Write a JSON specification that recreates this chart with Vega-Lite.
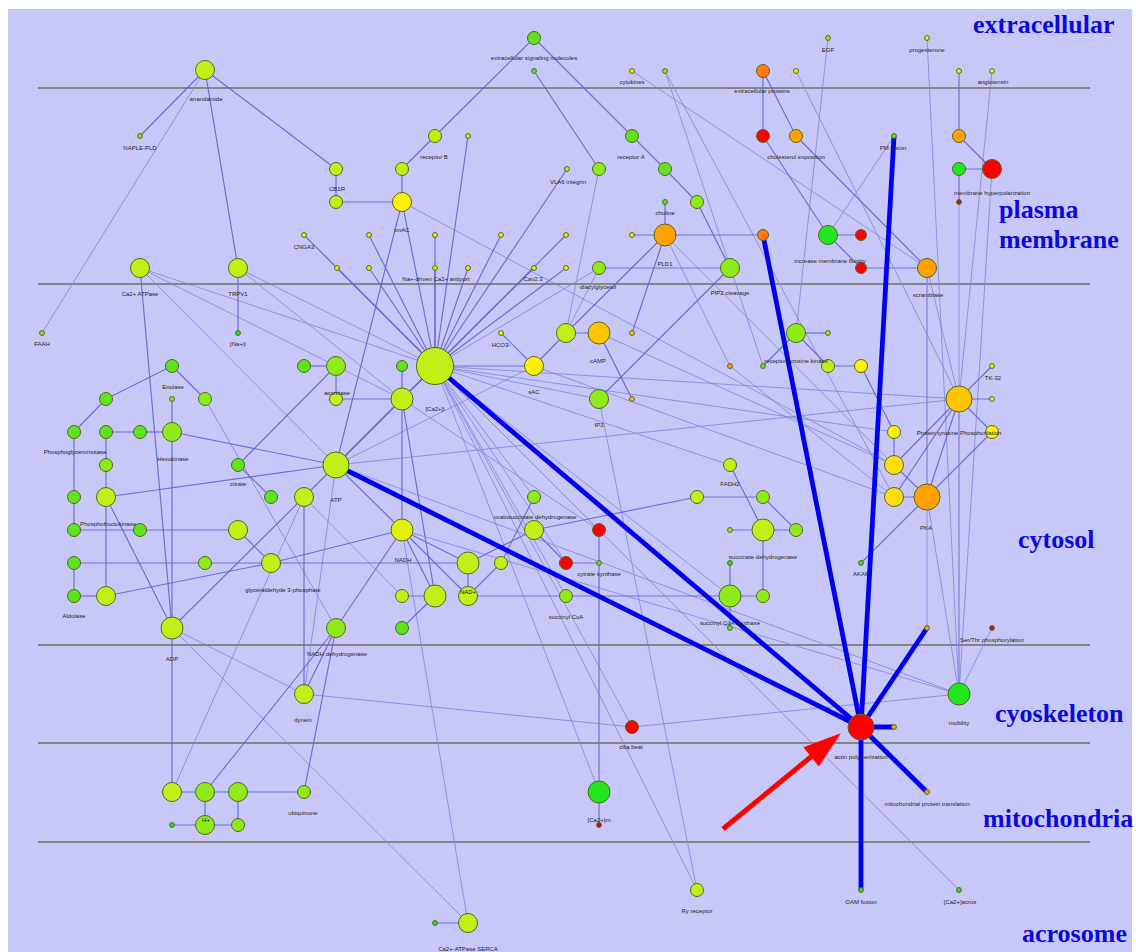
{
  "$schema": "https://vega.github.io/schema/vega-lite/v6.json",
  "width": 1124,
  "height": 943,
  "padding": {"left": 8, "top": 9, "right": 4, "bottom": 0},
  "autosize": {"type": "none"},
  "background": "white",
  "config": {"view": {"stroke": null, "fill": "#c8c8f8"}},
  "resolve": {"scale": {"color": "independent", "size": "independent"}},
  "datasets": {
    "nodes": [
      {"id":1,"x":205,"y":70,"lvl":4,"c":"g4"},{"id":2,"x":140,"y":136,"lvl":1,"c":"g3"},{"id":3,"x":534,"y":38,"lvl":3,"c":"g2"},{"id":4,"x":534,"y":71,"lvl":1,"c":"g2"},{"id":5,"x":632,"y":71,"lvl":1,"c":"y1"},{"id":6,"x":665,"y":71,"lvl":1,"c":"g3"},{"id":7,"x":763,"y":71,"lvl":3,"c":"o3"},{"id":8,"x":796,"y":71,"lvl":1,"c":"y1"},{"id":9,"x":828,"y":38,"lvl":1,"c":"g3"},{"id":10,"x":927,"y":38,"lvl":1,"c":"y1"},{"id":11,"x":959,"y":71,"lvl":1,"c":"y1"},{"id":12,"x":992,"y":71,"lvl":1,"c":"y1"},
      {"id":13,"x":435,"y":136,"lvl":3,"c":"g4"},{"id":14,"x":468,"y":136,"lvl":1,"c":"g4"},{"id":15,"x":402,"y":169,"lvl":3,"c":"g4"},{"id":16,"x":336,"y":169,"lvl":3,"c":"g4"},{"id":17,"x":336,"y":202,"lvl":3,"c":"g4"},{"id":18,"x":402,"y":202,"lvl":4,"c":"y2"},{"id":19,"x":567,"y":169,"lvl":1,"c":"g4"},{"id":20,"x":599,"y":169,"lvl":3,"c":"g3"},{"id":21,"x":632,"y":136,"lvl":3,"c":"g2"},{"id":22,"x":665,"y":169,"lvl":3,"c":"g2"},{"id":23,"x":697,"y":202,"lvl":3,"c":"g3"},{"id":24,"x":665,"y":202,"lvl":1,"c":"g2"},{"id":25,"x":665,"y":235,"lvl":5,"c":"o2"},{"id":26,"x":632,"y":235,"lvl":1,"c":"y1"},{"id":27,"x":763,"y":235,"lvl":2,"c":"o3"},{"id":28,"x":828,"y":235,"lvl":4,"c":"g1"},{"id":29,"x":861,"y":235,"lvl":2,"c":"r1"},{"id":30,"x":861,"y":268,"lvl":2,"c":"r1"},{"id":31,"x":927,"y":268,"lvl":4,"c":"o2"},{"id":32,"x":894,"y":136,"lvl":1,"c":"g2"},{"id":33,"x":959,"y":136,"lvl":3,"c":"o2"},{"id":34,"x":959,"y":169,"lvl":3,"c":"g1"},{"id":35,"x":992,"y":169,"lvl":4,"c":"r1"},{"id":36,"x":959,"y":202,"lvl":1,"c":"r2"},
      {"id":37,"x":304,"y":235,"lvl":1,"c":"y1"},{"id":38,"x":369,"y":235,"lvl":1,"c":"y1"},{"id":39,"x":435,"y":235,"lvl":1,"c":"y1"},{"id":40,"x":501,"y":235,"lvl":1,"c":"y1"},{"id":41,"x":566,"y":235,"lvl":1,"c":"y1"},{"id":42,"x":337,"y":268,"lvl":1,"c":"y1"},{"id":43,"x":369,"y":268,"lvl":1,"c":"y1"},{"id":44,"x":435,"y":268,"lvl":1,"c":"y1"},{"id":45,"x":468,"y":268,"lvl":1,"c":"y1"},{"id":46,"x":534,"y":268,"lvl":1,"c":"y1"},{"id":47,"x":566,"y":268,"lvl":1,"c":"y1"},
      {"id":48,"x":140,"y":268,"lvl":4,"c":"g4"},{"id":49,"x":238,"y":268,"lvl":4,"c":"g4"},{"id":50,"x":599,"y":268,"lvl":3,"c":"g3"},{"id":51,"x":730,"y":268,"lvl":4,"c":"g3"},
      {"id":52,"x":42,"y":333,"lvl":1,"c":"g3"},{"id":53,"x":238,"y":333,"lvl":1,"c":"g1"},{"id":54,"x":435,"y":366,"lvl":7,"c":"g4"},{"id":55,"x":402,"y":366,"lvl":2,"c":"g2"},{"id":56,"x":402,"y":399,"lvl":5,"c":"g4"},{"id":57,"x":501,"y":333,"lvl":1,"c":"y1"},{"id":58,"x":534,"y":366,"lvl":4,"c":"y2"},{"id":59,"x":566,"y":333,"lvl":4,"c":"g4"},{"id":60,"x":599,"y":333,"lvl":5,"c":"o1"},{"id":61,"x":632,"y":333,"lvl":1,"c":"o1"},{"id":62,"x":632,"y":399,"lvl":1,"c":"o1"},{"id":63,"x":599,"y":399,"lvl":4,"c":"g3"},{"id":64,"x":730,"y":366,"lvl":1,"c":"o2"},{"id":65,"x":763,"y":366,"lvl":1,"c":"g2"},{"id":66,"x":796,"y":333,"lvl":4,"c":"g3"},{"id":67,"x":828,"y":333,"lvl":1,"c":"g3"},{"id":68,"x":828,"y":366,"lvl":3,"c":"g4"},{"id":69,"x":861,"y":366,"lvl":3,"c":"y2"},{"id":70,"x":959,"y":399,"lvl":6,"c":"o1"},{"id":71,"x":992,"y":366,"lvl":1,"c":"y1"},{"id":72,"x":992,"y":399,"lvl":1,"c":"y1"},{"id":73,"x":992,"y":432,"lvl":3,"c":"y2"},{"id":74,"x":894,"y":432,"lvl":3,"c":"y2"},{"id":75,"x":894,"y":465,"lvl":4,"c":"y3"},{"id":76,"x":894,"y":497,"lvl":4,"c":"y3"},{"id":77,"x":927,"y":497,"lvl":6,"c":"o2"},{"id":78,"x":861,"y":563,"lvl":1,"c":"g1"},
      {"id":79,"x":172,"y":366,"lvl":3,"c":"g2"},{"id":80,"x":106,"y":399,"lvl":3,"c":"g2"},{"id":81,"x":205,"y":399,"lvl":3,"c":"g3"},{"id":82,"x":172,"y":399,"lvl":1,"c":"g3"},{"id":83,"x":74,"y":432,"lvl":3,"c":"g2"},{"id":84,"x":106,"y":432,"lvl":3,"c":"g2"},{"id":85,"x":140,"y":432,"lvl":3,"c":"g2"},{"id":86,"x":172,"y":432,"lvl":4,"c":"g3"},{"id":87,"x":106,"y":465,"lvl":3,"c":"g3"},{"id":88,"x":74,"y":497,"lvl":3,"c":"g2"},{"id":89,"x":106,"y":497,"lvl":4,"c":"g4"},{"id":90,"x":74,"y":530,"lvl":3,"c":"g2"},{"id":91,"x":140,"y":530,"lvl":3,"c":"g2"},{"id":92,"x":238,"y":530,"lvl":4,"c":"g4"},{"id":93,"x":74,"y":563,"lvl":3,"c":"g2"},{"id":94,"x":205,"y":563,"lvl":3,"c":"g3"},{"id":95,"x":271,"y":563,"lvl":4,"c":"g4"},{"id":96,"x":74,"y":596,"lvl":3,"c":"g2"},{"id":97,"x":106,"y":596,"lvl":4,"c":"g4"},{"id":98,"x":172,"y":628,"lvl":5,"c":"g4"},{"id":99,"x":238,"y":465,"lvl":3,"c":"g2"},{"id":100,"x":271,"y":497,"lvl":3,"c":"g2"},
      {"id":101,"x":304,"y":366,"lvl":3,"c":"g2"},{"id":102,"x":336,"y":366,"lvl":4,"c":"g3"},{"id":103,"x":336,"y":399,"lvl":3,"c":"g4"},{"id":104,"x":336,"y":465,"lvl":6,"c":"g4"},{"id":105,"x":304,"y":497,"lvl":4,"c":"g4"},{"id":106,"x":402,"y":530,"lvl":5,"c":"y1"},{"id":107,"x":468,"y":563,"lvl":5,"c":"g4"},{"id":108,"x":468,"y":596,"lvl":4,"c":"g4"},{"id":109,"x":435,"y":596,"lvl":5,"c":"g4"},{"id":110,"x":402,"y":596,"lvl":3,"c":"g4"},{"id":111,"x":402,"y":628,"lvl":3,"c":"g2"},{"id":112,"x":501,"y":563,"lvl":3,"c":"g4"},{"id":113,"x":534,"y":497,"lvl":3,"c":"g3"},{"id":114,"x":534,"y":530,"lvl":4,"c":"g4"},{"id":115,"x":599,"y":530,"lvl":3,"c":"r1"},{"id":116,"x":566,"y":563,"lvl":3,"c":"r1"},{"id":117,"x":599,"y":563,"lvl":1,"c":"g2"},{"id":118,"x":566,"y":596,"lvl":3,"c":"g3"},{"id":119,"x":730,"y":465,"lvl":3,"c":"g4"},{"id":120,"x":697,"y":497,"lvl":3,"c":"g4"},{"id":121,"x":763,"y":497,"lvl":3,"c":"g3"},{"id":122,"x":730,"y":530,"lvl":1,"c":"g3"},{"id":123,"x":763,"y":530,"lvl":5,"c":"g4"},{"id":124,"x":796,"y":530,"lvl":3,"c":"g3"},{"id":125,"x":730,"y":563,"lvl":1,"c":"g1"},{"id":126,"x":730,"y":596,"lvl":5,"c":"g3"},{"id":127,"x":763,"y":596,"lvl":3,"c":"g3"},{"id":128,"x":730,"y":628,"lvl":1,"c":"g2"},
      {"id":129,"x":336,"y":628,"lvl":4,"c":"g3"},{"id":130,"x":304,"y":694,"lvl":4,"c":"g4"},{"id":131,"x":992,"y":628,"lvl":1,"c":"r2"},{"id":132,"x":927,"y":628,"lvl":1,"c":"o2"},{"id":133,"x":959,"y":694,"lvl":5,"c":"g1"},{"id":134,"x":861,"y":727,"lvl":6,"c":"r1"},{"id":135,"x":894,"y":727,"lvl":1,"c":"o2"},{"id":136,"x":632,"y":727,"lvl":3,"c":"r1"},
      {"id":137,"x":172,"y":792,"lvl":4,"c":"g4"},{"id":138,"x":205,"y":792,"lvl":4,"c":"g3"},{"id":139,"x":238,"y":792,"lvl":4,"c":"g3"},{"id":140,"x":205,"y":825,"lvl":4,"c":"g3"},{"id":141,"x":238,"y":825,"lvl":3,"c":"g3"},{"id":142,"x":172,"y":825,"lvl":1,"c":"g1"},{"id":143,"x":304,"y":792,"lvl":3,"c":"g3"},{"id":144,"x":599,"y":792,"lvl":5,"c":"g1"},{"id":145,"x":599,"y":825,"lvl":1,"c":"r2"},{"id":146,"x":927,"y":792,"lvl":1,"c":"o2"},
      {"id":147,"x":697,"y":890,"lvl":3,"c":"g4"},{"id":148,"x":861,"y":890,"lvl":1,"c":"g1"},{"id":149,"x":959,"y":890,"lvl":1,"c":"g1"},{"id":150,"x":468,"y":923,"lvl":4,"c":"g4"},{"id":151,"x":435,"y":923,"lvl":1,"c":"g1"},{"id":152,"x":763,"y":136,"lvl":3,"c":"r1"},{"id":153,"x":796,"y":136,"lvl":3,"c":"o2"}
    ],
    "edges": [
      {"s":1,"t":52,"k":"faint"},{"s":6,"t":65,"k":"faint"},{"s":6,"t":76,"k":"faint"},{"s":5,"t":31,"k":"faint"},{"s":8,"t":70,"k":"faint"},{"s":9,"t":66,"k":"faint"},{"s":10,"t":133,"k":"faint"},{"s":12,"t":70,"k":"faint"},{"s":35,"t":133,"k":"faint"},{"s":36,"t":133,"k":"faint"},{"s":32,"t":28,"k":"faint"},{"s":18,"t":75,"k":"faint"},{"s":20,"t":59,"k":"faint"},{"s":50,"t":54,"k":"faint"},{"s":50,"t":59,"k":"faint"},{"s":25,"t":64,"k":"faint"},{"s":25,"t":75,"k":"faint"},{"s":31,"t":77,"k":"faint"},{"s":31,"t":70,"k":"faint"},{"s":31,"t":132,"k":"faint"},{"s":48,"t":54,"k":"faint"},{"s":48,"t":56,"k":"faint"},{"s":48,"t":104,"k":"faint"},{"s":49,"t":54,"k":"faint"},{"s":49,"t":56,"k":"faint"},{"s":58,"t":104,"k":"faint"},{"s":54,"t":70,"k":"faint"},{"s":54,"t":74,"k":"faint"},{"s":54,"t":113,"k":"faint"},{"s":54,"t":115,"k":"faint"},{"s":54,"t":144,"k":"faint"},{"s":54,"t":147,"k":"faint"},{"s":54,"t":136,"k":"faint"},{"s":54,"t":126,"k":"faint"},{"s":54,"t":149,"k":"faint"},{"s":54,"t":63,"k":"faint"},{"s":60,"t":75,"k":"faint"},{"s":58,"t":76,"k":"faint"},{"s":64,"t":76,"k":"faint"},{"s":63,"t":147,"k":"faint"},{"s":104,"t":70,"k":"faint"},{"s":104,"t":130,"k":"faint"},{"s":98,"t":130,"k":"faint"},{"s":98,"t":150,"k":"faint"},{"s":106,"t":150,"k":"faint"},{"s":130,"t":136,"k":"faint"},{"s":136,"t":133,"k":"faint"},{"s":70,"t":133,"k":"faint"},{"s":77,"t":133,"k":"faint"},{"s":131,"t":133,"k":"faint"},{"s":81,"t":129,"k":"faint"},{"s":105,"t":137,"k":"faint"},{"s":105,"t":110,"k":"faint"},{"s":119,"t":54,"k":"faint"},{"s":106,"t":133,"k":"faint"},{"s":104,"t":133,"k":"faint"},{"s":54,"t":116,"k":"faint"},{"s":54,"t":118,"k":"faint"},{"s":56,"t":115,"k":"faint"},
      {"s":1,"t":2,"k":"thin"},{"s":1,"t":49,"k":"thin"},{"s":1,"t":16,"k":"thin"},{"s":3,"t":13,"k":"thin"},{"s":3,"t":21,"k":"thin"},{"s":4,"t":20,"k":"thin"},{"s":7,"t":152,"k":"thin"},{"s":7,"t":153,"k":"thin"},{"s":152,"t":28,"k":"thin"},{"s":153,"t":31,"k":"thin"},{"s":11,"t":33,"k":"thin"},{"s":33,"t":35,"k":"thin"},{"s":34,"t":35,"k":"thin"},{"s":34,"t":36,"k":"thin"},{"s":13,"t":15,"k":"thin"},{"s":15,"t":18,"k":"thin"},{"s":16,"t":17,"k":"thin"},{"s":17,"t":18,"k":"thin"},{"s":18,"t":54,"k":"thin"},{"s":18,"t":104,"k":"thin"},{"s":21,"t":22,"k":"thin"},{"s":22,"t":23,"k":"thin"},{"s":23,"t":51,"k":"thin"},{"s":24,"t":25,"k":"thin"},{"s":26,"t":25,"k":"thin"},{"s":25,"t":27,"k":"thin"},{"s":50,"t":51,"k":"thin"},{"s":25,"t":59,"k":"thin"},{"s":25,"t":61,"k":"thin"},{"s":51,"t":63,"k":"thin"},{"s":28,"t":29,"k":"thin"},{"s":28,"t":30,"k":"thin"},{"s":30,"t":31,"k":"thin"},{"s":49,"t":53,"k":"thin"},{"s":55,"t":56,"k":"thin"},{"s":56,"t":54,"k":"thin"},{"s":57,"t":58,"k":"thin"},{"s":58,"t":54,"k":"thin"},{"s":58,"t":59,"k":"thin"},{"s":59,"t":60,"k":"thin"},{"s":60,"t":62,"k":"thin"},{"s":66,"t":67,"k":"thin"},{"s":66,"t":68,"k":"thin"},{"s":66,"t":65,"k":"thin"},{"s":68,"t":69,"k":"thin"},{"s":69,"t":74,"k":"thin"},{"s":74,"t":75,"k":"thin"},{"s":75,"t":77,"k":"thin"},{"s":76,"t":77,"k":"thin"},{"s":75,"t":70,"k":"thin"},{"s":76,"t":70,"k":"thin"},{"s":77,"t":70,"k":"thin"},{"s":77,"t":73,"k":"thin"},{"s":70,"t":71,"k":"thin"},{"s":70,"t":72,"k":"thin"},{"s":70,"t":73,"k":"thin"},{"s":77,"t":78,"k":"thin"},
      {"s":79,"t":80,"k":"thin"},{"s":79,"t":81,"k":"thin"},{"s":80,"t":83,"k":"thin"},{"s":83,"t":88,"k":"thin"},{"s":88,"t":90,"k":"thin"},{"s":90,"t":91,"k":"thin"},{"s":91,"t":92,"k":"thin"},{"s":93,"t":94,"k":"thin"},{"s":93,"t":96,"k":"thin"},{"s":96,"t":97,"k":"thin"},{"s":84,"t":85,"k":"thin"},{"s":85,"t":86,"k":"thin"},{"s":82,"t":86,"k":"thin"},{"s":84,"t":87,"k":"thin"},{"s":87,"t":89,"k":"thin"},{"s":89,"t":97,"k":"thin"},{"s":94,"t":95,"k":"thin"},{"s":92,"t":95,"k":"thin"},{"s":97,"t":95,"k":"thin"},{"s":99,"t":100,"k":"thin"},{"s":99,"t":102,"k":"thin"},{"s":101,"t":102,"k":"thin"},{"s":102,"t":103,"k":"thin"},{"s":103,"t":56,"k":"thin"},{"s":104,"t":105,"k":"thin"},{"s":104,"t":106,"k":"thin"},{"s":56,"t":106,"k":"thin"},{"s":56,"t":109,"k":"thin"},{"s":95,"t":106,"k":"thin"},{"s":95,"t":107,"k":"thin"},{"s":106,"t":107,"k":"thin"},{"s":106,"t":108,"k":"thin"},{"s":106,"t":109,"k":"thin"},{"s":109,"t":110,"k":"thin"},{"s":109,"t":111,"k":"thin"},{"s":107,"t":108,"k":"thin"},{"s":107,"t":114,"k":"thin"},{"s":108,"t":112,"k":"thin"},{"s":108,"t":118,"k":"thin"},{"s":112,"t":113,"k":"thin"},{"s":114,"t":116,"k":"thin"},{"s":114,"t":120,"k":"thin"},{"s":115,"t":117,"k":"thin"},{"s":116,"t":117,"k":"thin"},{"s":117,"t":144,"k":"thin"},{"s":144,"t":145,"k":"thin"},{"s":118,"t":126,"k":"thin"},{"s":120,"t":121,"k":"thin"},{"s":121,"t":124,"k":"thin"},{"s":119,"t":123,"k":"thin"},{"s":122,"t":123,"k":"thin"},{"s":123,"t":124,"k":"thin"},{"s":123,"t":127,"k":"thin"},{"s":126,"t":127,"k":"thin"},{"s":126,"t":125,"k":"thin"},{"s":126,"t":128,"k":"thin"},{"s":137,"t":138,"k":"thin"},{"s":138,"t":139,"k":"thin"},{"s":139,"t":143,"k":"thin"},{"s":138,"t":140,"k":"thin"},{"s":139,"t":141,"k":"thin"},{"s":140,"t":141,"k":"thin"},{"s":142,"t":140,"k":"thin"},{"s":143,"t":129,"k":"thin"},{"s":138,"t":129,"k":"thin"},{"s":98,"t":137,"k":"thin"},{"s":129,"t":106,"k":"thin"},{"s":151,"t":150,"k":"thin"},{"s":86,"t":98,"k":"thin"},{"s":89,"t":98,"k":"thin"},{"s":86,"t":104,"k":"thin"},{"s":89,"t":104,"k":"thin"},{"s":98,"t":105,"k":"thin"},{"s":105,"t":130,"k":"thin"},{"s":129,"t":130,"k":"thin"},{"s":104,"t":56,"k":"thin"},{"s":104,"t":54,"k":"thin"},{"s":48,"t":98,"k":"thin"},
      {"s":37,"t":54,"k":"thin"},{"s":38,"t":54,"k":"thin"},{"s":39,"t":54,"k":"thin"},{"s":40,"t":54,"k":"thin"},{"s":41,"t":54,"k":"thin"},{"s":42,"t":54,"k":"thin"},{"s":43,"t":54,"k":"thin"},{"s":44,"t":54,"k":"thin"},{"s":45,"t":54,"k":"thin"},{"s":46,"t":54,"k":"thin"},{"s":47,"t":54,"k":"thin"},{"s":14,"t":54,"k":"thin"},{"s":19,"t":54,"k":"thin"},
      {"s":54,"t":134,"k":"thick"},{"s":104,"t":134,"k":"thick"},{"s":27,"t":134,"k":"thick"},{"s":32,"t":134,"k":"thick"},{"s":132,"t":134,"k":"thick"},{"s":135,"t":134,"k":"thick"},{"s":146,"t":134,"k":"thick"},{"s":148,"t":134,"k":"thick"}
    ],
    "labels": [
      {"t":"anandamide","x":206,"y":99},{"t":"NAPLE-PLD","x":140,"y":148},{"t":"extracellular signaling molecules","x":534,"y":58},{"t":"cytokines","x":632,"y":82},{"t":"extracellular proteins","x":762,"y":91},{"t":"EGF","x":828,"y":50},{"t":"progesterone","x":927,"y":50},{"t":"angiotensin","x":993,"y":82},{"t":"receptor B","x":434,"y":157},{"t":"CB1R","x":337,"y":189},{"t":"tmAC","x":402,"y":230},{"t":"VLA6 integrin","x":568,"y":182},{"t":"receptor A","x":631,"y":157},{"t":"choline","x":665,"y":213},{"t":"PLD1","x":665,"y":264},{"t":"increase membrane fluidity","x":830,"y":261},{"t":"cholesterol exposition","x":796,"y":157},{"t":"PM fusion","x":893,"y":148},{"t":"membrane hyperpolarization","x":992,"y":193},{"t":"CNGA3","x":304,"y":247},{"t":"Na+-driven Ca2+ antiport","x":436,"y":279},{"t":"Cav2.3","x":533,"y":279},{"t":"Ca2+ ATPase","x":140,"y":294},{"t":"TRPV1","x":238,"y":294},{"t":"diacylglycerol","x":598,"y":287},{"t":"PIP2 cleavage","x":730,"y":293},{"t":"scramblase","x":928,"y":295},{"t":"FAAH","x":42,"y":344},{"t":"[Na+]i","x":238,"y":344},{"t":"HCO3-","x":501,"y":345},{"t":"sAC","x":534,"y":392},{"t":"cAMP","x":598,"y":361},{"t":"[Ca2+]i","x":435,"y":409},{"t":"aconitase","x":337,"y":393},{"t":"IP3","x":599,"y":425},{"t":"receptor tyrosine kinase","x":796,"y":361},{"t":"TK-32","x":993,"y":378},{"t":"Protein tyrosine Phosphorilation","x":959,"y":433},{"t":"Enolase","x":173,"y":387},{"t":"Phosphoglyceromutase","x":75,"y":452},{"t":"Hexokinase","x":173,"y":459},{"t":"citrate","x":238,"y":484},{"t":"ATP","x":336,"y":500},{"t":"Phosphofructokinase","x":108,"y":524},{"t":"oxalosuccinate dehydrogenase","x":535,"y":517},{"t":"FADH2","x":730,"y":484},{"t":"PKA","x":926,"y":528},{"t":"NADH","x":403,"y":560},{"t":"glyceraldehyde 3-phosphate","x":283,"y":590},{"t":"NAD+","x":468,"y":592},{"t":"cytrate synthase","x":599,"y":574},{"t":"succinate dehydrogenase","x":763,"y":557},{"t":"AKAP","x":861,"y":574},{"t":"Aldolase","x":74,"y":616},{"t":"succinyl CoA","x":566,"y":617},{"t":"succinyl CoA synthase","x":730,"y":623},{"t":"Ser/Thr phosphorylation","x":992,"y":640},{"t":"ADP","x":172,"y":659},{"t":"NADH dehydrogenase","x":337,"y":654},{"t":"dynein","x":303,"y":720},{"t":"mobility","x":959,"y":723},{"t":"actin polymerization","x":861,"y":757},{"t":"cilia beat","x":631,"y":747},{"t":"H+","x":206,"y":820},{"t":"ubiquinone","x":303,"y":813},{"t":"[Ca2+]m","x":599,"y":820},{"t":"mitochondrial protein translation","x":927,"y":804},{"t":"Ry receptor","x":697,"y":911},{"t":"OAM fusion","x":861,"y":902},{"t":"[Ca2+]acros","x":960,"y":902},{"t":"Ca2+-ATPase SERCA","x":468,"y":949}
    ],
    "regions": [
      {"t":"extracellular","x":973,"y":33},{"t":"plasma","x":999,"y":218},{"t":"membrane","x":999,"y":248},{"t":"cytosol","x":1018,"y":548},{"t":"cyoskeleton","x":995,"y":722},{"t":"mitochondria","x":983,"y":827},{"t":"acrosome","x":1022,"y":942}
    ],
    "bands": [
      {"y":88,"x0":38,"x1":1090},{"y":284,"x0":38,"x1":1090},{"y":645,"x0":38,"x1":1090},{"y":743,"x0":38,"x1":1090},{"y":842,"x0":38,"x1":1090}
    ]
  },
  "layer": [
    {
      "data": {"name": "bands"},
      "mark": {"type": "rule", "color": "#858585", "strokeWidth": 2},
      "encoding": {
        "x": {"field": "x0", "type": "quantitative", "scale": {"domain": [8, 1132], "nice": false, "zero": false}, "axis": null},
        "x2": {"field": "x1"},
        "y": {"field": "y", "type": "quantitative", "scale": {"domain": [9, 952], "nice": false, "zero": false, "reverse": true}, "axis": null}
      }
    },
    {
      "data": {"name": "edges"},
      "transform": [
        {"filter": "datum.k === 'faint'"},
        {"lookup": "s", "from": {"data": {"name": "nodes"}, "key": "id", "fields": ["x", "y"]}, "as": ["sx", "sy"]},
        {"lookup": "t", "from": {"data": {"name": "nodes"}, "key": "id", "fields": ["x", "y"]}, "as": ["tx", "ty"]}
      ],
      "mark": {"type": "rule", "color": "#8282e2", "strokeWidth": 1, "opacity": 0.8},
      "encoding": {
        "x": {"field": "sx", "type": "quantitative", "scale": {"domain": [8, 1132], "nice": false, "zero": false}, "axis": null},
        "y": {"field": "sy", "type": "quantitative", "scale": {"domain": [9, 952], "nice": false, "zero": false, "reverse": true}, "axis": null},
        "x2": {"field": "tx"},
        "y2": {"field": "ty"}
      }
    },
    {
      "data": {"name": "edges"},
      "transform": [
        {"filter": "datum.k === 'thin'"},
        {"lookup": "s", "from": {"data": {"name": "nodes"}, "key": "id", "fields": ["x", "y"]}, "as": ["sx", "sy"]},
        {"lookup": "t", "from": {"data": {"name": "nodes"}, "key": "id", "fields": ["x", "y"]}, "as": ["tx", "ty"]}
      ],
      "mark": {"type": "rule", "color": "#6464d4", "strokeWidth": 1.2, "opacity": 0.9},
      "encoding": {
        "x": {"field": "sx", "type": "quantitative", "scale": {"domain": [8, 1132], "nice": false, "zero": false}, "axis": null},
        "y": {"field": "sy", "type": "quantitative", "scale": {"domain": [9, 952], "nice": false, "zero": false, "reverse": true}, "axis": null},
        "x2": {"field": "tx"},
        "y2": {"field": "ty"}
      }
    },
    {
      "data": {"name": "edges"},
      "transform": [
        {"filter": "datum.k === 'thick'"},
        {"lookup": "s", "from": {"data": {"name": "nodes"}, "key": "id", "fields": ["x", "y"]}, "as": ["sx", "sy"]},
        {"lookup": "t", "from": {"data": {"name": "nodes"}, "key": "id", "fields": ["x", "y"]}, "as": ["tx", "ty"]}
      ],
      "mark": {"type": "rule", "color": "#0000ee", "strokeWidth": 4.8, "strokeCap": "butt"},
      "encoding": {
        "x": {"field": "sx", "type": "quantitative", "scale": {"domain": [8, 1132], "nice": false, "zero": false}, "axis": null},
        "y": {"field": "sy", "type": "quantitative", "scale": {"domain": [9, 952], "nice": false, "zero": false, "reverse": true}, "axis": null},
        "x2": {"field": "tx"},
        "y2": {"field": "ty"}
      }
    },
    {
      "data": {"name": "nodes"},
      "mark": {"type": "point", "shape": "circle", "filled": true, "opacity": 1, "stroke": "#56661f", "strokeWidth": 1},
      "encoding": {
        "x": {"field": "x", "type": "quantitative", "scale": {"domain": [8, 1132], "nice": false, "zero": false}, "axis": null},
        "y": {"field": "y", "type": "quantitative", "scale": {"domain": [9, 952], "nice": false, "zero": false, "reverse": true}, "axis": null},
        "size": {"field": "lvl", "type": "quantitative", "scale": {"type": "threshold", "domain": [1.5, 2.5, 3.5, 4.5, 5.5, 6.5], "range": [24, 121, 169, 361, 484, 676, 1369]}, "legend": null},
        "color": {"field": "c", "type": "nominal", "scale": {"domain": ["g1", "g2", "g3", "g4", "y1", "y2", "y3", "o1", "o2", "o3", "r1", "r2"], "range": ["#22e61e", "#5ee41c", "#8eea1a", "#c2ef18", "#e2f00c", "#fff200", "#ffdc10", "#ffc400", "#ffa200", "#ff7a12", "#ff0000", "#c01010"]}, "legend": null}
      }
    },
    {
      "data": {"name": "labels"},
      "mark": {"type": "text", "font": "Liberation Sans", "fontSize": 6, "color": "#222222", "align": "center", "baseline": "middle"},
      "encoding": {
        "x": {"field": "x", "type": "quantitative", "scale": {"domain": [8, 1132], "nice": false, "zero": false}, "axis": null},
        "y": {"field": "y", "type": "quantitative", "scale": {"domain": [9, 952], "nice": false, "zero": false, "reverse": true}, "axis": null},
        "text": {"field": "t", "type": "nominal"}
      }
    },
    {
      "data": {"name": "regions"},
      "mark": {"type": "text", "font": "Liberation Serif", "fontWeight": "bold", "fontSize": 26, "color": "#0a0adc", "align": "left", "baseline": "alphabetic"},
      "encoding": {
        "x": {"field": "x", "type": "quantitative", "scale": {"domain": [8, 1132], "nice": false, "zero": false}, "axis": null},
        "y": {"field": "y", "type": "quantitative", "scale": {"domain": [9, 952], "nice": false, "zero": false, "reverse": true}, "axis": null},
        "text": {"field": "t", "type": "nominal"}
      }
    },
    {
      "data": {"values": [{"x": 723, "y": 829, "x2": 812, "y2": 756}]},
      "mark": {"type": "rule", "color": "#ff0000", "strokeWidth": 5},
      "encoding": {
        "x": {"field": "x", "type": "quantitative", "scale": {"domain": [8, 1132], "nice": false, "zero": false}, "axis": null},
        "y": {"field": "y", "type": "quantitative", "scale": {"domain": [9, 952], "nice": false, "zero": false, "reverse": true}, "axis": null},
        "x2": {"field": "x2"},
        "y2": {"field": "y2"}
      }
    },
    {
      "data": {"values": [{"x": 826, "y": 745}]},
      "mark": {"type": "point", "shape": "M0,-1L0.65,1L-0.65,1Z", "filled": true, "color": "#ff0000", "opacity": 1, "size": 1444, "angle": 51.5},
      "encoding": {
        "x": {"field": "x", "type": "quantitative", "scale": {"domain": [8, 1132], "nice": false, "zero": false}, "axis": null},
        "y": {"field": "y", "type": "quantitative", "scale": {"domain": [9, 952], "nice": false, "zero": false, "reverse": true}, "axis": null}
      }
    }
  ]
}
